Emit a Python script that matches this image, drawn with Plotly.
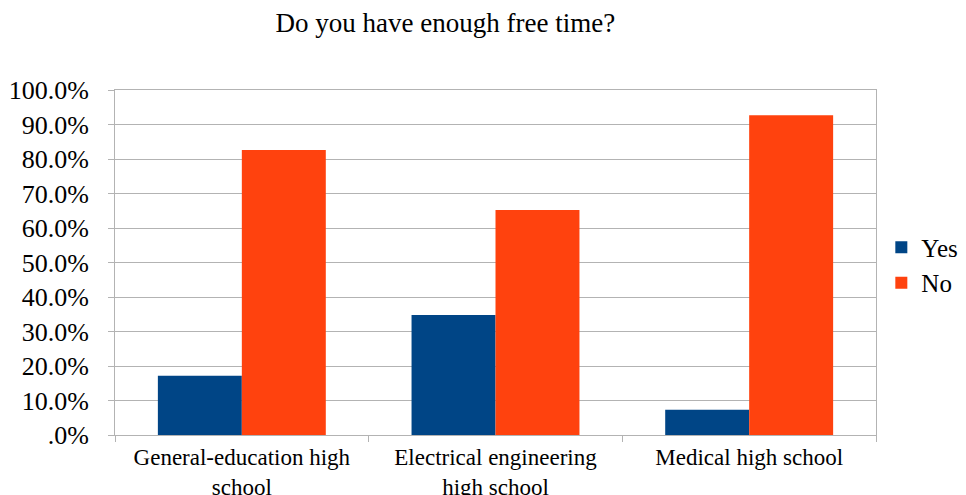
import plotly.graph_objects as go

categories = ["General-education high<br>school", "Electrical engineering<br>high school", "Medical high school"]
yes_values = [0.172, 0.348, 0.073]
no_values = [0.826, 0.652, 0.927]
tick_vals = [0, 0.1, 0.2, 0.3, 0.4, 0.5, 0.6, 0.7, 0.8, 0.9, 1.0]
tick_text = [".0%", "10.0%", "20.0%", "30.0%", "40.0%", "50.0%", "60.0%", "70.0%", "80.0%", "90.0%", "100.0%"]

FONT = "Liberation Serif"

fig = go.Figure()
fig.add_trace(go.Bar(name="Yes", x=categories, y=yes_values, marker=dict(color="#004586", line=dict(width=0))))
fig.add_trace(go.Bar(name="No", x=categories, y=no_values, marker=dict(color="#FF420E", line=dict(width=0))))

fig.update_layout(
    width=966, height=495,
    margin=dict(l=115, r=90, t=90, b=60, autoexpand=False),
    paper_bgcolor="white", plot_bgcolor="white",
    barmode="group", bargap=0.338, bargroupgap=0,
    font=dict(family=FONT, size=24, color="#000000"),
    title=dict(text="Do you have enough free time?", x=0.461, xanchor="center", y=0.955, yanchor="middle",
               font=dict(family=FONT, size=27, color="#000000")),
    legend=dict(x=1.007, xanchor="left", y=0.493, yanchor="middle", font=dict(family=FONT, size=25),
                itemsizing="constant", tracegroupgap=0, bgcolor="rgba(0,0,0,0)"),
    showlegend=True,
)
fig.update_xaxes(
    type="category", showline=True, linecolor="#b3b3b3", linewidth=1, mirror=True,
    ticks="outside", tickson="boundaries", ticklen=6, tickcolor="#b3b3b3",
    showgrid=False, tickfont=dict(family=FONT, size=23), automargin=False,
    ticklabelstandoff=1,
)
fig.update_yaxes(
    range=[0, 1.0], tickvals=tick_vals, ticktext=tick_text,
    showline=True, linecolor="#b3b3b3", linewidth=1, mirror=True,
    ticks="outside", ticklen=6, tickcolor="#b3b3b3",
    showgrid=True, gridcolor="#b3b3b3", gridwidth=1,
    tickfont=dict(family=FONT, size=26), zeroline=False, automargin=False,
    ticklabelstandoff=14,
)

fig.write_html("out.html")
